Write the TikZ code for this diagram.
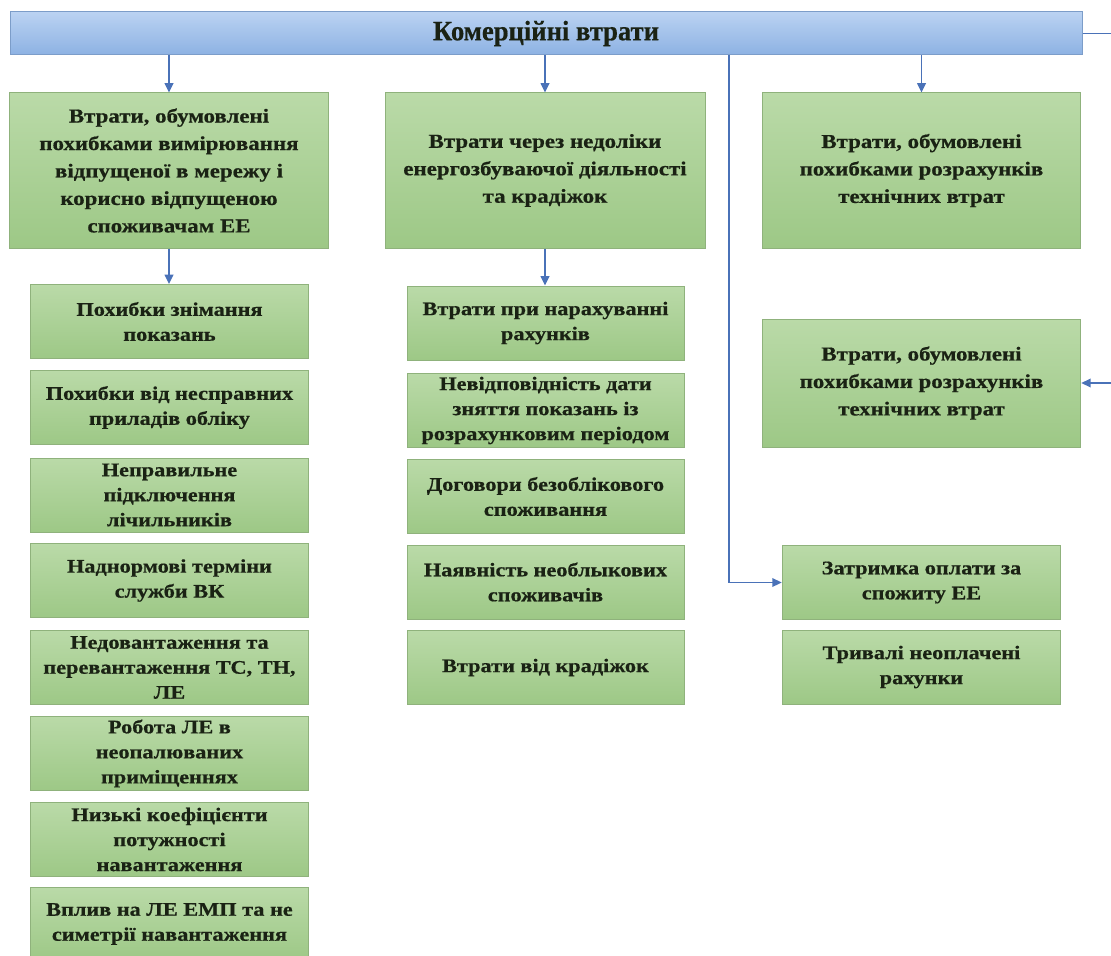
\documentclass[tikz,border=0pt]{standalone}
\usepackage{fontspec}
\setmainfont{Liberation Serif}
\newfontfamily\boxfont[FakeStretch=1.16,FakeBold=0.6]{Liberation Serif}
\usetikzlibrary{arrows.meta}

\definecolor{barTop}{HTML}{BAD2F2}
\definecolor{barBot}{HTML}{8DB2E3}
\definecolor{barLine}{HTML}{7C9DC9}
\definecolor{boxTop}{HTML}{BADAA8}
\definecolor{boxBot}{HTML}{9DC886}
\definecolor{boxLine}{HTML}{8FB27C}
\definecolor{linkBlue}{HTML}{4A72B8}
\definecolor{inkDark}{HTML}{1A2214}

\tikzset{every picture/.style={line width=0.75pt}}
\tikzset{
  barbox/.style={draw=barLine, top color=barTop, bottom color=barBot, text=inkDark,
    minimum width=804pt, minimum height=32.25pt, inner sep=0pt,
    font=\boxfont\bfseries\fontsize{21}{24}\selectfont},
  bigbox/.style={draw=boxLine, top color=boxTop, bottom color=boxBot, text=inkDark,
    minimum width=239pt, minimum height=116.25pt, inner sep=0pt, align=center,
    font=\boxfont\bfseries\fontsize{14.8}{20.6}\selectfont},
  itembox/.style={draw=boxLine, top color=boxTop, bottom color=boxBot, text=inkDark,
    minimum width=209pt, minimum height=55.5pt, inner sep=0pt, align=center,
    font=\boxfont\bfseries\fontsize{14.4}{18.75}\selectfont},
  link/.style={draw=linkBlue, line width=1.1pt, -{Triangle[length=7pt,width=6.5pt]}}
}

\begin{document}
\begin{tikzpicture}[x=0.75pt,y=0.75pt,yscale=-1,xscale=1]
        \useasboundingbox (0,0) rectangle (1111,956);
        \clip (0,0) rectangle (1111,956);

        %Shape: Rectangle (top bar)
        \node [barbox] (bar) at (546,33.5) {\scalebox{0.82}[1]{Комерційні втрати}};

        %Shape: Rectangle (first level)
        \node [bigbox] (lbig) at (169,170.5) {Втрати, обумовлені\\похибками вимірювання\\відпущеної в мережу і\\корисно відпущеною\\споживачам ЕЕ};
        \node [bigbox, minimum width=240pt] (mbig) at (545,170.5) {Втрати через недоліки\\енергозбуваючої діяльності\\та крадіжок};
        \node [bigbox] (rbig) at (921.5,170.5) {Втрати, обумовлені\\похибками розрахунків\\технічних втрат};
        \node [bigbox, minimum height=96pt] (rtech) at (921.5,383) {Втрати, обумовлені\\похибками розрахунків\\технічних втрат};

        %Shape: Rectangle (left column)
        \node [itembox] (l1) at (169.5,321.5) {Похибки знімання\\показань};
        \node [itembox] (l2) at (169.5,407.5) {Похибки від несправних\\приладів обліку};
        \node [itembox] (l3) at (169.5,495) {Неправильне\\підключення\\лічильників};
        \node [itembox] (l4) at (169.5,580.5) {Наднормові терміни\\служби ВК};
        \node [itembox] (l5) at (169.5,667.5) {Недовантаження та\\перевантаження ТС, ТН,\\ЛЕ};
        \node [itembox] (l6) at (169.5,753.5) {Робота ЛЕ в\\неопалюваних\\приміщеннях};
        \node [itembox] (l7) at (169.5,839.5) {Низькі коефіцієнти\\потужності\\навантаження};
        \node [itembox] (l8) at (169.5,924) {Вплив на ЛЕ ЕМП та не\\симетрії навантаження};

        %Shape: Rectangle (middle column)
        \node [itembox, minimum width=207.75pt] (m1) at (545.5,323) {Втрати при нарахуванні\\рахунків};
        \node [itembox, minimum width=207.75pt] (m2) at (545.5,410.5) {Невідповідність дати\\зняття показань із\\розрахунковим періодом};
        \node [itembox, minimum width=207.75pt] (m3) at (545.5,496.5) {Договори безоблікового\\споживання};
        \node [itembox, minimum width=207.75pt] (m4) at (545.5,582) {Наявність необлыкових\\споживачів};
        \node [itembox, minimum width=207.75pt] (m5) at (545.5,667.5) {Втрати від крадіжок};

        %Shape: Rectangle (right column)
        \node [itembox] (zat) at (921.5,582.5) {Затримка оплати за\\спожиту ЕЕ};
        \node [itembox] (tryv) at (921.5,667) {Тривалі неоплачені\\рахунки};

        % Straight Lines
        \coordinate (tapx) at (729,0);
        \coordinate (rloop) at (1130,33.5);
        \draw [link] (bar.south -| lbig.north) -- (lbig.north);
        \draw [link] (bar.south -| mbig.north) -- (mbig.north);
        \draw [link] (bar.south -| rbig.north) -- (rbig.north);
        \draw [link] (lbig.south) -- (lbig.south |- l1.north);
        \draw [link] (mbig.south) -- (mbig.south |- m1.north);
        \draw [link] (bar.south -| tapx) |- (zat.west);
        \draw [link] (bar.east) -- (rloop) |- (rtech.east);

\end{tikzpicture}
\end{document}
